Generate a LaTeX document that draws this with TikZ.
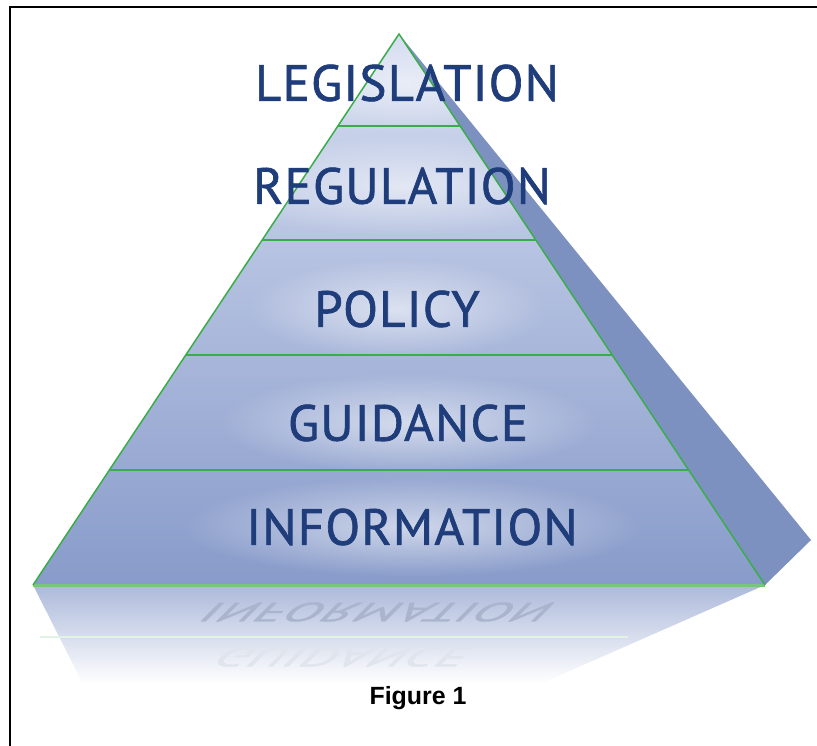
\documentclass[tikz,border=0pt]{standalone}
\usepackage{fontspec}
\setmainfont{Liberation Sans}
\newfontfamily\tierfont[LetterSpace=2.5,FakeBold=1.3]{PT Sans}
\usetikzlibrary{calc,fadings}
\definecolor{navy}{RGB}{31,61,122}
\definecolor{edgegreen}{RGB}{58,173,74}
\definecolor{sideblue}{RGB}{125,145,192}
\definecolor{facetop}{RGB}{212,220,240}
\definecolor{facebot}{RGB}{136,155,202}
\tikzfading[name=softglow, inner color=transparent!20, outer color=transparent!100]
\tikzset{
  tier/.style={text=navy, font=\tierfont\fontsize{51}{51}\selectfont},
  mirror/.style={font=\tierfont\fontsize{53}{53}\selectfont, yscale=-0.5, xslant=-0.5},
  divider/.style={edgegreen, line width=2.2bp},
  glow/.style={white, opacity=0.7, path fading=softglow}
}

\begin{document}
\begin{tikzpicture}[x=1bp,y=-1bp]
    \fill[white] (0,0) rectangle (817,746);
    \useasboundingbox (0,0) rectangle (817,746);

    \coordinate (apex) at (399,34);
    \coordinate (bl) at (33,585);
    \coordinate (br) at (765,585);
    \coordinate (tip) at (811,540);
    \coordinate (rbl) at (83,684);
    \coordinate (rbr) at (540,684);

    % reflection under the pyramid
    \shade[top color=facebot!70!white, bottom color=white] (bl) -- (br) -- (rbr) -- (rbl) -- cycle;
    \draw[edgegreen!15, line width=1.5bp] (40,637) -- (628,637);
    \node[mirror, text=navy!38!white] (infr) at (377,612) {INFORMATION};
    \node[mirror, text=navy!14!white] (guir) at (343,657) {GUIDANCE};

    % side and front faces
    \fill[sideblue] (apex) -- (tip) -- (br) -- cycle;
    \shade[top color=facetop, bottom color=facebot] (apex) -- (br) -- (bl) -- cycle;
    \begin{scope}
      \clip (apex) -- (br) -- (bl) -- cycle;
      \foreach \cx/\cy/\rx in {407/83/150, 402/186/200, 397/309/150, 408/423/190, 412/527/230}
        \fill[glow] (\cx,\cy) ellipse ({\rx} and 50);
    \end{scope}

    \foreach \t in {0.167,0.374,0.583,0.791}
      \draw[divider] ($(apex)!\t!(bl)$) -- ($(apex)!\t!(br)$);
    \draw[edgegreen!70, line width=3bp] (bl) -- (br);
    \draw[edgegreen, line width=1.5bp] (bl) -- (apex) -- (br);

    \node[tier] (leg) at (407,83) {LEGISLATION};
    \node[tier] (reg) at (402,186) {REGULATION};
    \node[tier] (pol) at (397,309) {POLICY};
    \node[tier] (gui) at (408,423) {GUIDANCE};
    \node[tier] (inf) at (412,527) {INFORMATION};

    \node[font=\fontsize{25}{25}\selectfont\bfseries] (cap) at (418,698) {Figure 1};

    \draw[line width=2bp] (10,746) -- (10,7) -- (817,7);
  \end{tikzpicture}
\end{document}
